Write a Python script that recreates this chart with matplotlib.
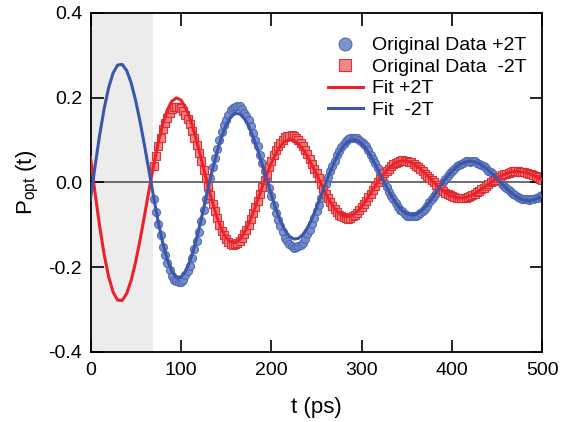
import numpy as np
import matplotlib
matplotlib.use("Agg")
import matplotlib.pyplot as plt

plt.rcParams['font.family'] = ['Liberation Sans', 'DejaVu Sans']
plt.rcParams['mathtext.fontset'] = 'custom'
plt.rcParams['mathtext.rm'] = 'Liberation Sans'

# fit curves, sampled every 5 ps from 0 to 500
fit_t = np.arange(0, 501, 5)
fit_plus = [0.0587, -0.0246, -0.1019, -0.1690, -0.2221, -0.2588, -0.2776, -0.2785, -0.2622, -0.2306,
            -0.1867, -0.1335, -0.0749, -0.0148, 0.0430, 0.0952, 0.1387, 0.1714, 0.1920, 0.1997,
            0.1946, 0.1779, 0.1512, 0.1165, 0.0766, 0.0341, -0.0084, -0.0480, -0.0826, -0.1104,
            -0.1299, -0.1404, -0.1417, -0.1342, -0.1190, -0.0972, -0.0706, -0.0411, -0.0105, 0.0190,
            0.0458, 0.0684, 0.0857, 0.0967, 0.1012, 0.0993, 0.0914, 0.0783, 0.0610, 0.0410,
            0.0195, -0.0024, -0.0251, -0.0451, -0.0614, -0.0729, -0.0794, -0.0806, -0.0768, -0.0687,
            -0.0567, -0.0418, -0.0251, -0.0077, 0.0082, 0.0220, 0.0337, 0.0427, 0.0487, 0.0512,
            0.0506, 0.0469, 0.0405, 0.0319, 0.0218, 0.0110, 0.0000, -0.0104, -0.0196, -0.0272,
            -0.0326, -0.0358, -0.0366, -0.0351, -0.0315, -0.0262, -0.0196, -0.0121, -0.0043, 0.0034,
            0.0105, 0.0166, 0.0213, 0.0245, 0.0259, 0.0258, 0.0240, 0.0210, 0.0167, 0.0116,
            0.0061]
fit_minus = [-0.0392, 0.0384, 0.1105, 0.1734, 0.2235, 0.2585, 0.2771, 0.2788, 0.2642, 0.2348,
             0.1928, 0.1415, 0.0840, 0.0239, -0.0369, -0.0942, -0.1435, -0.1827, -0.2096, -0.2231,
             -0.2232, -0.2102, -0.1855, -0.1510, -0.1092, -0.0626, -0.0144, 0.0312, 0.0724, 0.1078,
             0.1354, 0.1540, 0.1629, 0.1619, 0.1516, 0.1328, 0.1071, 0.0762, 0.0421, 0.0070,
             -0.0290, -0.0624, -0.0907, -0.1126, -0.1270, -0.1334, -0.1319, -0.1227, -0.1068, -0.0852,
             -0.0596, -0.0316, -0.0029, 0.0246, 0.0495, 0.0706, 0.0866, 0.0970, 0.1012, 0.0994,
             0.0919, 0.0794, 0.0628, 0.0430, 0.0217, 0.0000, -0.0207, -0.0393, -0.0548, -0.0666,
             -0.0739, -0.0768, -0.0750, -0.0688, -0.0589, -0.0461, -0.0311, -0.0148, 0.0015, 0.0149,
             0.0268, 0.0368, 0.0442, 0.0487, 0.0502, 0.0488, 0.0446, 0.0379, 0.0293, 0.0193,
             0.0086, -0.0024, -0.0137, -0.0237, -0.0320, -0.0381, -0.0417, -0.0427, -0.0412, -0.0373,
             -0.0315]

# measured data, every 2.5 ps from 70 to 500
data_t = np.arange(70, 500.1, 2.5)
data_plus = [-0.040, -0.069, -0.097, -0.125, -0.152, -0.172, -0.190, -0.207, -0.221, -0.229,
             -0.233, -0.236, -0.236, -0.229, -0.219, -0.209, -0.196, -0.178, -0.157, -0.138,
             -0.116, -0.091, -0.064, -0.040, -0.016, 0.010, 0.036, 0.057, 0.078, 0.100,
             0.120, 0.135, 0.147, 0.160, 0.171, 0.176, 0.178, 0.180, 0.180, 0.174,
             0.165, 0.158, 0.148, 0.133, 0.116, 0.101, 0.085, 0.066, 0.045, 0.027,
             0.008, -0.012, -0.032, -0.053, -0.073, -0.089, -0.103, -0.118, -0.131, -0.139,
             -0.145, -0.151, -0.154, -0.153, -0.150, -0.147, -0.142, -0.133, -0.121, -0.111,
             -0.099, -0.084, -0.067, -0.052, -0.037, -0.021, -0.004, 0.012, 0.027, 0.039,
             0.051, 0.064, 0.075, 0.083, 0.090, 0.097, 0.103, 0.105, 0.105, 0.106,
             0.106, 0.101, 0.095, 0.091, 0.085, 0.076, 0.065, 0.056, 0.046, 0.034,
             0.022, 0.012, 0.001, -0.011, -0.022, -0.031, -0.040, -0.049, -0.058, -0.064,
             -0.068, -0.074, -0.078, -0.079, -0.079, -0.080, -0.080, -0.076, -0.071, -0.067,
             -0.062, -0.055, -0.047, -0.040, -0.033, -0.024, -0.015, -0.007, 0.002, 0.009,
             0.016, 0.022, 0.027, 0.033, 0.038, 0.041, 0.044, 0.047, 0.050, 0.050,
             0.049, 0.050, 0.050, 0.047, 0.044, 0.042, 0.039, 0.034, 0.028, 0.024,
             0.020, 0.014, 0.008, 0.003, -0.003, -0.008, -0.012, -0.018, -0.023, -0.027,
             -0.030, -0.034, -0.037, -0.038, -0.039, -0.040, -0.041, -0.040, -0.038, -0.037,
             -0.036, -0.033, -0.029]
data_minus = [0.040, 0.063, 0.085, 0.106, 0.126, 0.141, 0.153, 0.164, 0.173, 0.177,
              0.178, 0.178, 0.176, 0.169, 0.159, 0.149, 0.137, 0.121, 0.104, 0.088,
              0.070, 0.050, 0.030, 0.011, -0.009, -0.030, -0.050, -0.068, -0.084, -0.100,
              -0.115, -0.125, -0.133, -0.141, -0.146, -0.147, -0.145, -0.143, -0.139, -0.132,
              -0.122, -0.112, -0.101, -0.087, -0.072, -0.058, -0.043, -0.027, -0.010, 0.006,
              0.021, 0.036, 0.050, 0.064, 0.076, 0.085, 0.093, 0.101, 0.107, 0.109,
              0.110, 0.111, 0.110, 0.106, 0.101, 0.094, 0.085, 0.077, 0.068, 0.056,
              0.044, 0.033, 0.022, 0.010, -0.003, -0.015, -0.026, -0.037, -0.047, -0.055,
              -0.063, -0.070, -0.076, -0.080, -0.082, -0.084, -0.085, -0.083, -0.080, -0.077,
              -0.072, -0.066, -0.059, -0.051, -0.043, -0.035, -0.027, -0.018, -0.008, 0.001,
              0.009, 0.016, 0.022, 0.028, 0.033, 0.038, 0.043, 0.046, 0.049, 0.051,
              0.052, 0.051, 0.050, 0.049, 0.048, 0.044, 0.040, 0.036, 0.032, 0.027,
              0.021, 0.016, 0.011, 0.006, 0.000, -0.006, -0.011, -0.016, -0.020, -0.024,
              -0.027, -0.030, -0.033, -0.035, -0.036, -0.037, -0.037, -0.037, -0.036, -0.034,
              -0.031, -0.029, -0.027, -0.023, -0.019, -0.016, -0.012, -0.008, -0.004, 0.000,
              0.004, 0.007, 0.010, 0.014, 0.017, 0.019, 0.021, 0.023, 0.025, 0.026,
              0.026, 0.026, 0.025, 0.025, 0.024, 0.023, 0.021, 0.019, 0.017, 0.015,
              0.012, 0.009, 0.006]

shade_end = 69

blue = '#3c56a9'
red = '#ee2128'

fig = plt.figure(figsize=(5.74, 4.22), dpi=100)
ax = fig.add_axes([0.1577, 0.1659, 0.7874, 0.8033])

ax.axvspan(0, shade_end, color='#ececec', lw=0, zorder=0)
ax.axhline(0, color='#555555', lw=1.2, zorder=1)

ax.plot(data_t, data_plus, 'o', ls='none', ms=5.8, mfc='#7088c8', mec='#4d66b3', mew=0.8,
        alpha=0.9, zorder=2, label='Original Data +2T')
ax.plot(data_t, data_minus, 's', ls='none', ms=5.4, mfc='#f07a7a', mec='#d8262c', mew=0.8,
        alpha=0.9, zorder=2, label='Original Data  -2T')
ax.plot(fit_t, fit_plus, color=red, lw=2.2, zorder=3, label='Fit +2T')
ax.plot(fit_t, fit_minus, color=blue, lw=2.2, zorder=3, label='Fit  -2T')

ax.set_xlim(0, 500)
ax.set_ylim(-0.4, 0.4)
ax.set_xticks([0, 100, 200, 300, 400, 500])
ax.set_yticks([-0.4, -0.2, 0.0, 0.2, 0.4])
ax.set_yticklabels(['-0.4', '-0.2', '0.0', '0.2', '0.4'])
ax.tick_params(direction='in', length=9, width=1.2, labelsize=14, top=True, right=True)
ax.tick_params(axis='x', pad=7)
ax.tick_params(axis='y', pad=6)
for s in ax.spines.values():
    s.set_linewidth(1.3)

ax.set_xlabel('t (ps)', fontsize=16, labelpad=13)
ax.set_ylabel(r'P$_{\rm opt}$ (t)', fontsize=16, labelpad=5)

ax.legend(loc='upper right', bbox_to_anchor=(0.996, 0.97), frameon=False, fontsize=14,
          markerscale=1.6, handlelength=1.8, handletextpad=0.5, labelspacing=0.2,
          borderaxespad=0.3)

fig.savefig('out.png', dpi=100)
